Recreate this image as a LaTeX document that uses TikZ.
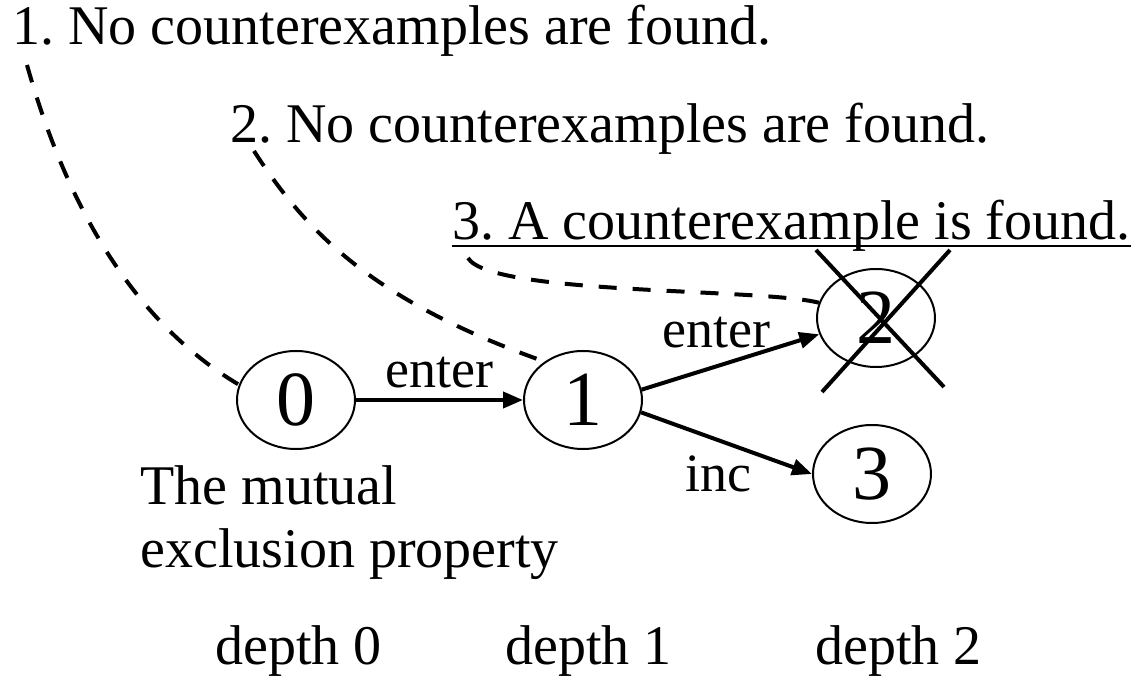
\documentclass[tikz,border=0pt]{standalone}
\usepackage{fontspec}
\setmainfont{Liberation Serif}
\frenchspacing
\usetikzlibrary{shapes.geometric,arrows.meta,calc}

\tikzset{
	state/.style={draw, ellipse, line width=1pt, minimum width=59pt, minimum height=49pt, inner sep=0pt, font=\fontsize{39}{39}\selectfont},
	txt/.style={inner sep=0pt, anchor=base west, font=\fontsize{28}{31.5}\selectfont},
	trans/.style={line width=2pt, -{Triangle[length=10pt,width=8pt]}},
	hint/.style={line width=2pt, dash pattern=on 9pt off 8pt},
	lbl/.style={inner sep=0pt, font=\fontsize{27}{27}\selectfont}
}

\begin{document}
\begin{tikzpicture}[x=0.5pt, y=-0.5pt]
		\useasboundingbox (0,0) rectangle (1137,678);
		% the three checks
		\node (c1) [txt] at (12,45) {1. No counterexamples are found.};
		\node (c2) [txt] at (230,143) {2. No counterexamples are found.};
		\node (c3) [txt] at (452,240) {3. A counterexample is found.};
		\draw[line width=1.2pt] ($(c3.base west)+(0,6)$) -- ($(c3.base east)+(0,6)$);
		% states
		\node (s0) [state] at (296,400) {0};
		\node (s1) [state] at (583,400) {1};
		\node (s2) [state] at (876,318) {2};
		\node (s3) [state] at (872,474) {3};
		\draw[trans] (s0) -- node[lbl, above=5pt] {enter} (s1);
		\draw[trans] (s1.10) -- node[lbl, pos=0.42, above=8pt] {enter} (s2.196);
		\draw[trans] (s1.-12) -- node[lbl, pos=0.45, below=7pt] {inc} (s3.west);
		\draw[line width=2pt] (s2) ++(-60,-68) -- ++(128,137);
		\draw[line width=2pt] (s2) ++(74,-68) -- ++(-128,142);
		% where each check starts
		\draw[hint] ($(c1.base west)+(15,20)$) .. controls (65,200) and (130,320) .. (s0.165);
		\draw[hint] ($(c2.base west)+(24,8)$) .. controls (305,230) and (370,300) .. (s1.135);
		\draw[hint] ($(c3.base west)+(16,18)$) .. controls (490,295) and (760,288) .. (s2.165);
		\node (prop) [txt, align=left] at (140,568) {The mutual\\exclusion property};
		\node (d0) [txt] at (215,665) {depth 0};
		\node (d1) [txt] at (505,665) {depth 1};
		\node (d2) [txt] at (815,665) {depth 2};
\end{tikzpicture}
\end{document}
